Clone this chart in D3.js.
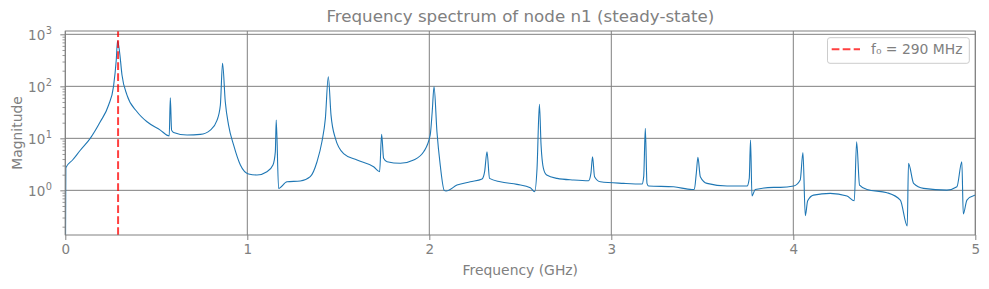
<!DOCTYPE html>
<html>
<head>
<meta charset="utf-8">
<script src="https://cdn.jsdelivr.net/npm/d3@7"></script>
<style>
  html, body { margin: 0; padding: 0; background: #fff; }
  svg { display: block; font-family: "DejaVu Sans", sans-serif; }
</style>
</head>
<body>
<svg id="chart" width="989" height="289"></svg>
<script>
// ---- data ----
const freqGHz = [
  0, 0.003, 0.04, 0.0824, 0.137, 0.192, 0.238, 0.265, 0.280, 0.287, 0.298, 0.3115, 0.339, 0.394, 0.449, 0.522,
  0.571, 0.577, 0.584, 0.595, 0.669, 0.742, 0.797, 0.834, 0.852, 0.864, 0.879, 0.897, 0.925, 0.962,
  1.007, 1.053, 1.108, 1.141, 1.154, 1.159, 1.172, 1.218, 1.291, 1.346, 1.383, 1.410, 1.429, 1.445,
  1.460, 1.484, 1.529, 1.603, 1.694, 1.727, 1.738, 1.749, 1.768, 1.841, 1.914, 1.969, 2.005, 2.016,
  2.026, 2.042, 2.060, 2.082, 2.092, 2.152, 2.225, 2.290, 2.304, 2.317, 2.331, 2.390, 2.482, 2.555,
  2.579, 2.592, 2.605, 2.614, 2.627, 2.645, 2.702, 2.793, 2.875, 2.888, 2.897, 2.908, 2.940,
  3.068, 3.169, 3.178, 3.187, 3.196, 3.205, 3.342, 3.443, 3.456, 3.467, 3.476, 3.489, 3.526, 3.636,
  3.746, 3.758, 3.765, 3.773, 3.791, 3.892, 3.929, 4.002, 4.038, 4.053, 4.066, 4.079, 4.111, 4.203,
  4.295, 4.335, 4.348, 4.364, 4.405, 4.515, 4.588, 4.626, 4.633, 4.661, 4.716, 4.844, 4.899, 4.926,
  4.934, 4.954, 5.0
];
const magnitude = [
  0.01, 2.72, 3.83, 5.9, 10, 20.8, 43.7, 100, 320, 753, 463, 165, 68, 32.5, 20.8, 14.4,
  11.1, 60.3, 14.4, 13, 11.6, 11.9, 14.4, 22.4, 43.7, 277, 50.6, 18, 7.4, 3.07,
  2.06, 1.97, 2.28, 3.07, 5.5, 22.4, 1.09, 1.46, 1.51, 1.83, 3.55, 8.6, 24.2, 153,
  28, 10, 5.1, 3.83, 2.84, 2.28, 11.9, 4.13, 3.55, 3.31, 3.83, 5.5, 11.6, 32.5,
  98.5, 13.4, 3.07, 1.0, 0.97, 1.26, 1.46, 1.65, 2.28, 5.5, 1.70, 1.46, 1.30, 1.12,
  0.94, 2.65, 45, 7.5, 2.65, 1.97, 1.70, 1.58, 1.53, 2.12, 4.42, 1.83, 1.46,
  1.36, 1.32, 1.83, 15.6, 1.36, 1.21, 1.17, 1.04, 1.04, 2.12, 4.3, 1.83, 1.36, 1.21,
  1.21, 1.70, 9.3, 0.78, 1.04, 1.14, 1.14, 1.21, 1.58, 5.3, 0.325, 0.63, 0.81, 0.875,
  0.78, 0.63, 8.6, 1.26, 1.04, 0.90, 0.65, 0.206, 3.3, 1.36, 1.09, 1.01, 1.17, 3.55,
  0.35, 0.65, 0.81
];
const xTicks = [0, 1, 2, 3, 4, 5];
const yTickExponents = [0, 1, 2, 3];
const f0MHz = 290;
const titleText = "Frequency spectrum of node n1 (steady-state)";
const xLabelText = "Frequency (GHz)";
const yLabelText = "Magnitude";
const legendText = "f\u2080 = " + f0MHz + " MHz";

// ---- layout ----
const L = 65.3, R = 975.3, T = 31, B = 235;
const grey = "#808080";
const svg = d3.select("#chart");

const x = d3.scaleLinear().domain([0, 5]).range([L, R]);
const y = d3.scaleLog().domain([Math.pow(10, -0.859), Math.pow(10, 3.064)]).range([B, T]);

// clip
svg.append("defs").append("clipPath").attr("id", "clip")
  .append("rect").attr("x", L).attr("y", T).attr("width", R - L).attr("height", B - T);

// grid
const grid = svg.append("g");
xTicks.forEach(t => {
  grid.append("line").attr("x1", x(t)).attr("x2", x(t)).attr("y1", T).attr("y2", B)
    .attr("stroke", grey).attr("stroke-width", 1);
});
yTickExponents.forEach(e => {
  grid.append("line").attr("x1", L).attr("x2", R).attr("y1", y(Math.pow(10, e))).attr("y2", y(Math.pow(10, e)))
    .attr("stroke", grey).attr("stroke-width", 1);
});

// series
const pts = freqGHz.map((f, i) => [f, magnitude[i]]);
const line = d3.line().x(d => x(d[0])).y(d => y(d[1])).curve(d3.curveMonotoneX);
svg.append("path").datum(pts).attr("clip-path", "url(#clip)")
  .attr("d", line).attr("fill", "none").attr("stroke", "#1f77b4").attr("stroke-width", 1.1)
  .attr("stroke-linejoin", "round");

// f0 marker
svg.append("line").attr("x1", x(f0MHz / 1000)).attr("x2", x(f0MHz / 1000)).attr("y1", B).attr("y2", T)
  .attr("stroke", "#ff0000").attr("stroke-opacity", 0.75).attr("stroke-width", 2)
  .attr("stroke-dasharray", "7.7,3.3");

// spines
svg.append("rect").attr("x", L).attr("y", T).attr("width", R - L).attr("height", B - T)
  .attr("fill", "none").attr("stroke", grey).attr("stroke-width", 1);

// x axis
const xAxis = d3.axisBottom(x).tickValues(xTicks).tickSize(5).tickPadding(4).tickFormat(d3.format("d"));
const gx = svg.append("g").attr("transform", `translate(0,${B})`).call(xAxis);
gx.select(".domain").remove();
gx.selectAll(".tick line").attr("stroke", grey);
gx.selectAll(".tick text").attr("fill", grey).style("font-size", "13.5px").style("font-family", "DejaVu Sans");

// y axis: major + minor ticks
const minorVals = [];
for (let e = -1; e <= 3; e++) for (let m = 2; m <= 9; m++) {
  const v = m * Math.pow(10, e);
  if (v >= y.domain()[0] && v <= y.domain()[1]) minorVals.push(v);
}
const gyMinor = svg.append("g").attr("transform", `translate(${L},0)`)
  .call(d3.axisLeft(y).tickValues(minorVals).tickSize(2.8).tickFormat(""));
gyMinor.select(".domain").remove();
gyMinor.selectAll(".tick line").attr("stroke", grey).attr("stroke-width", 0.8);

const gy = svg.append("g").attr("transform", `translate(${L},0)`)
  .call(d3.axisLeft(y).tickValues(yTickExponents.map(e => Math.pow(10, e))).tickSize(5).tickFormat(""));
gy.select(".domain").remove();
gy.selectAll(".tick line").attr("stroke", grey);

yTickExponents.forEach(e => {
  const ty = y(Math.pow(10, e));
  const t = svg.append("text").attr("x", 52).attr("y", ty + 5.2).attr("text-anchor", "end")
    .attr("fill", grey).style("font-size", "13.5px");
  t.append("tspan").text("10");
  t.append("tspan").attr("dy", -5.6).attr("dx", 0.5).style("font-size", "9.8px").text(String(e));
});

// labels
svg.append("text").attr("x", (L + R) / 2).attr("y", 22).attr("text-anchor", "middle")
  .attr("fill", grey).style("font-size", "16.7px").text(titleText);
svg.append("text").attr("x", (L + R) / 2).attr("y", 274.5).attr("text-anchor", "middle")
  .attr("fill", grey).style("font-size", "13.9px").text(xLabelText);
svg.append("text").attr("transform", `translate(21.7,${(T + B) / 2}) rotate(-90)`).attr("text-anchor", "middle")
  .attr("fill", grey).style("font-size", "13.9px").text(yLabelText);

// legend
const lg = svg.append("g");
lg.append("rect").attr("x", 827.5).attr("y", 37.7).attr("width", 141.8).attr("height", 25.6)
  .attr("rx", 2.5).attr("fill", "#fff").attr("fill-opacity", 0.8).attr("stroke", "#cccccc").attr("stroke-width", 1);
lg.append("line").attr("x1", 831.7).attr("x2", 860).attr("y1", 49.2).attr("y2", 49.2)
  .attr("stroke", "#ff0000").attr("stroke-opacity", 0.75).attr("stroke-width", 2).attr("stroke-dasharray", "7.7,3.3");
lg.append("text").attr("x", 871).attr("y", 53.7).attr("fill", grey).style("font-size", "13.9px").text(legendText);
</script>
</body>
</html>
